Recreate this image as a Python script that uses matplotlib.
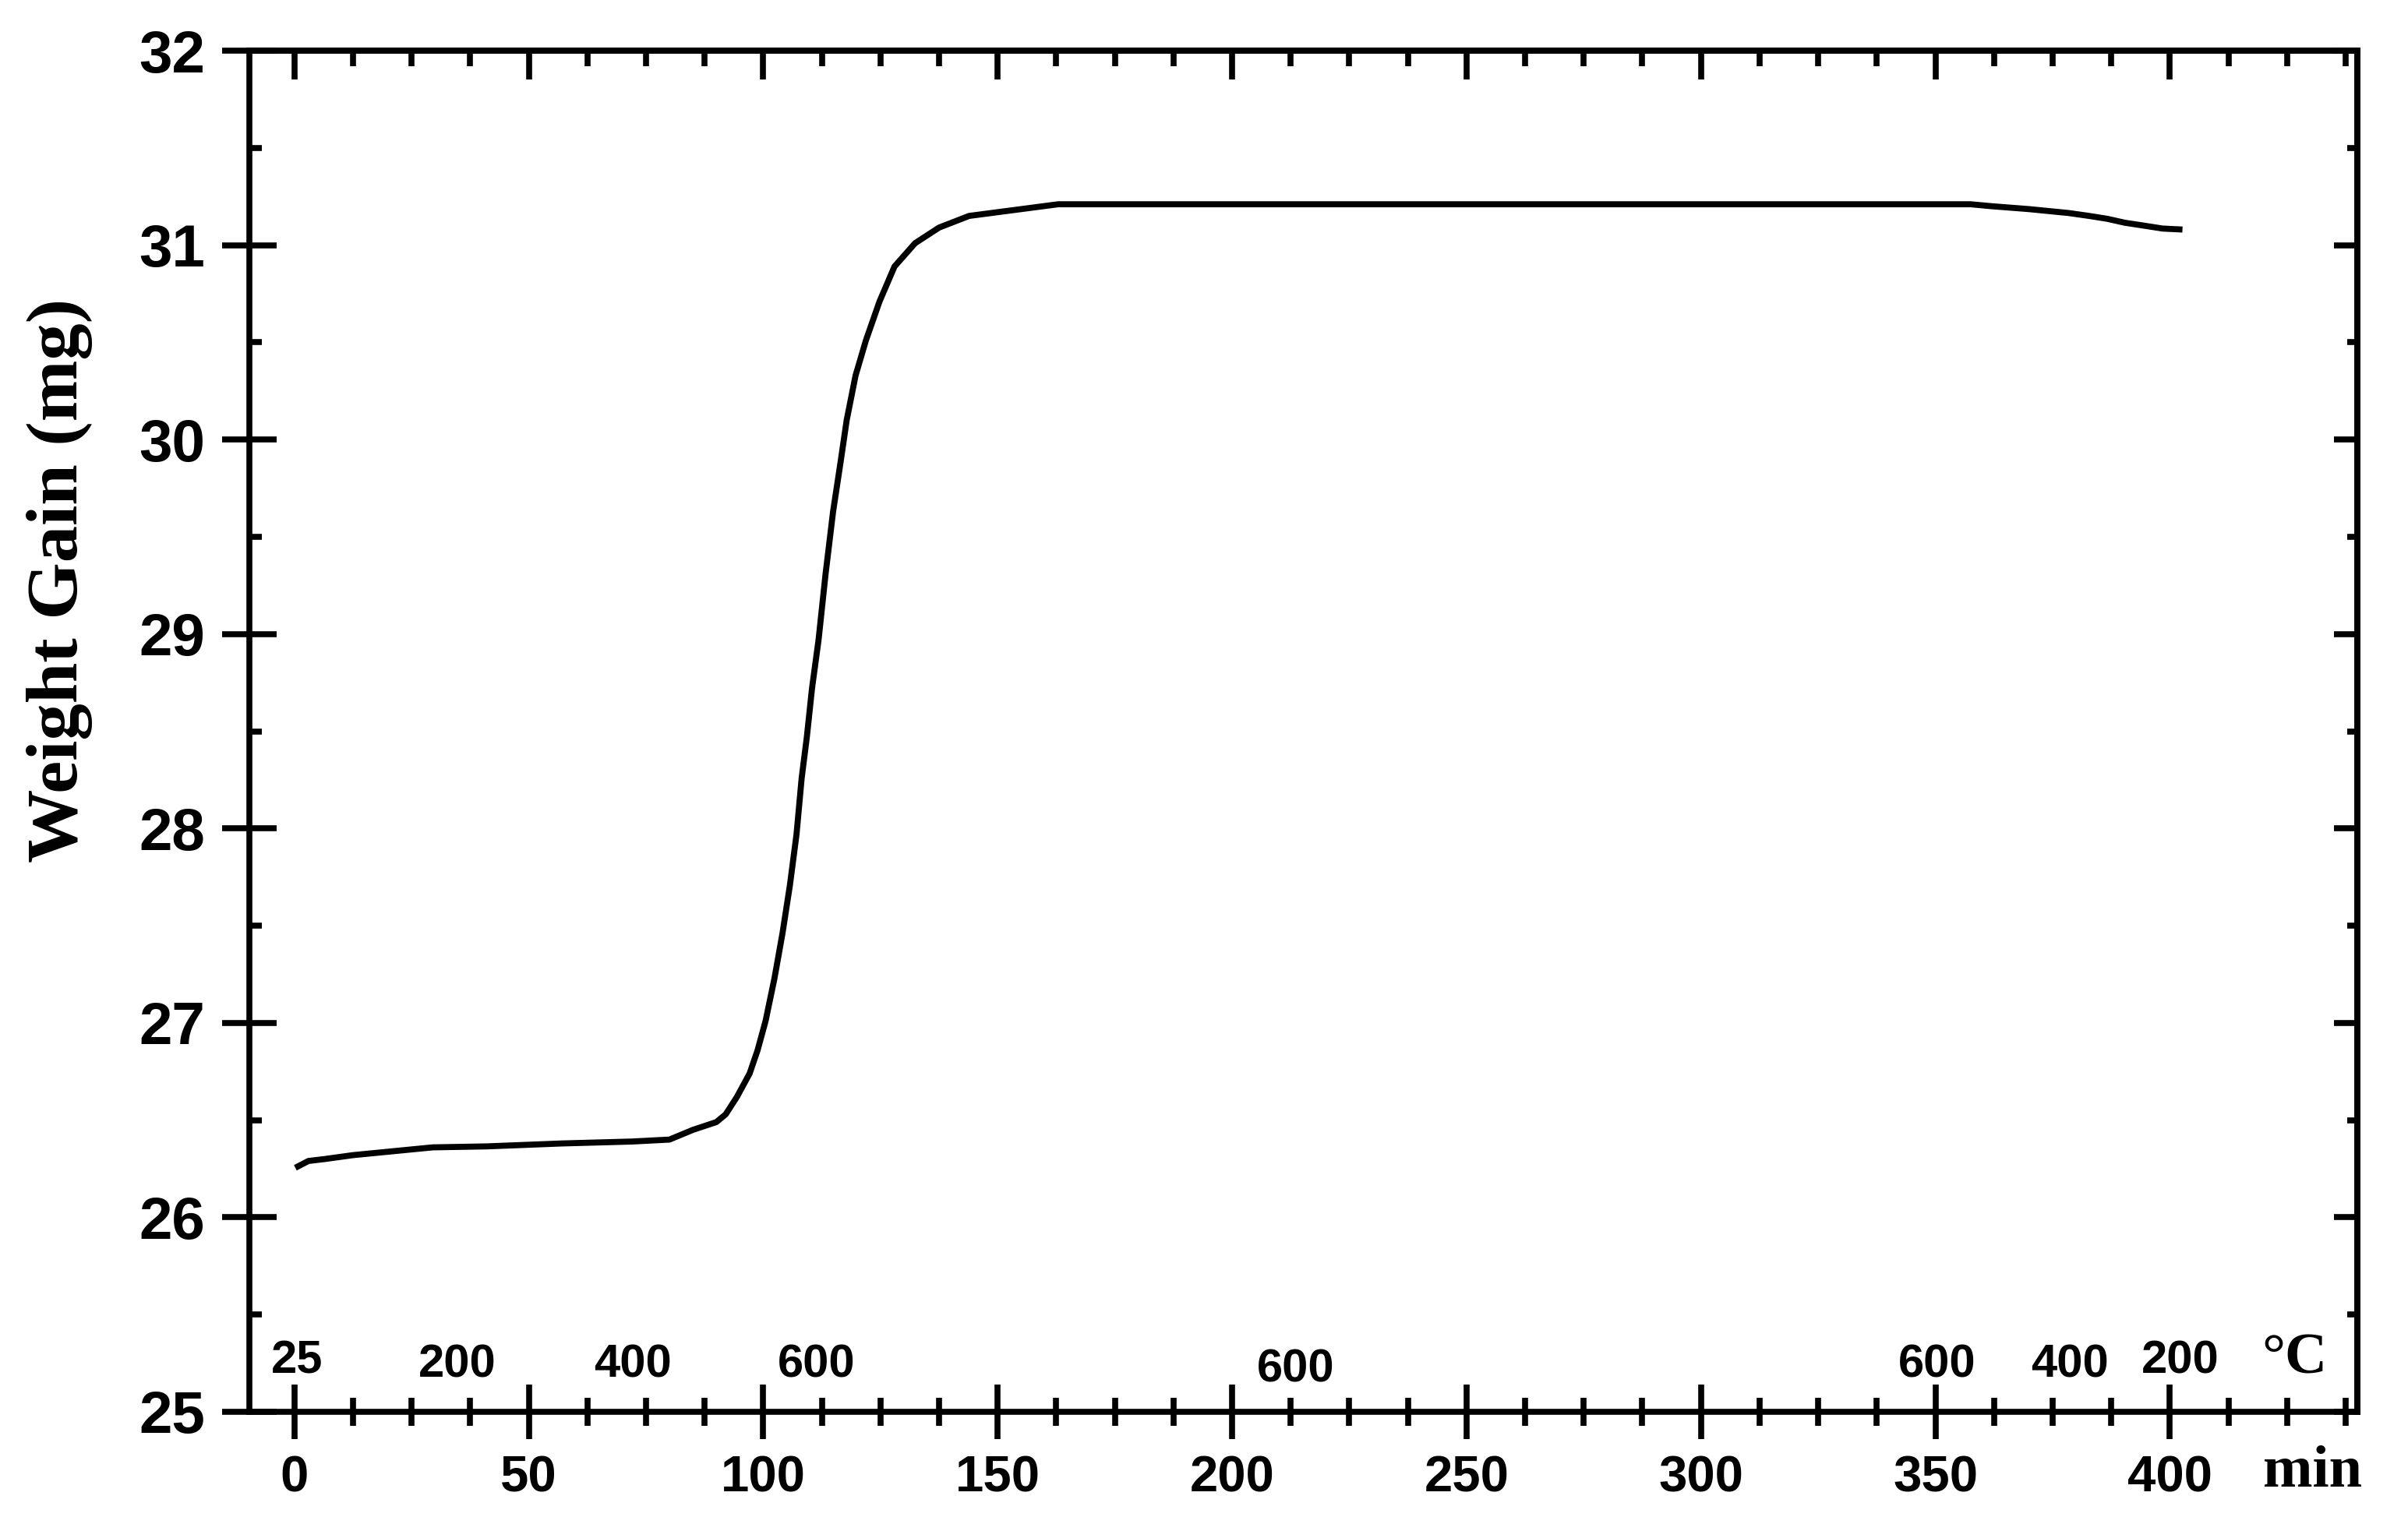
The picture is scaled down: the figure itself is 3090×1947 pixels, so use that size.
import matplotlib
matplotlib.use("Agg")
import matplotlib.pyplot as plt
from matplotlib.ticker import MultipleLocator, NullFormatter

# ---------------- data ----------------
time_min = [0.2, 3, 6.5, 12.5, 21, 29.5, 41, 57, 72, 80, 85, 90, 92, 94.4,
            97.1, 98.8, 100.5, 102.4, 104.1, 105.7, 107.1, 108.2, 109.3,
            110.4, 111.8, 113.3, 114.9, 116.5, 117.8, 119.7, 121.9, 124.8,
            128.0, 132.4, 137.5, 143.9, 153.4, 162.9, 250, 357.5, 362, 370,
            378.4, 382.8, 386.7, 390.4, 394.5, 398.5, 402.7]
weight_mg = [26.255, 26.29, 26.30, 26.32, 26.34, 26.36, 26.365, 26.38, 26.39,
             26.40, 26.45, 26.49, 26.53, 26.62, 26.74, 26.86, 27.01, 27.23,
             27.46, 27.71, 27.97, 28.26, 28.47, 28.72, 28.97, 29.31, 29.63,
             29.885, 30.10, 30.33, 30.51, 30.71, 30.89, 31.01, 31.09, 31.15,
             31.18, 31.21, 31.21, 31.21, 31.20, 31.185, 31.165, 31.15, 31.135,
             31.115, 31.10, 31.085, 31.08]

temp_labels = ["25", "200", "400", "600", "600", "600", "400", "200"]
temp_label_x = [0.5, 34.8, 72.2, 111.3, 213.5, 350.3, 378.7, 402.3]
temp_label_y = [25.20, 25.18, 25.18, 25.18, 25.156, 25.18, 25.18, 25.20]

x_limits = (-9.6, 440)
y_limits = (25, 32)

# ---------------- figure ----------------
W, H = 3090, 1947
fig = plt.figure(figsize=(W / 100, H / 100), dpi=100)
plt.rcParams["font.family"] = ["Liberation Sans", "DejaVu Sans"]
plt.rcParams["font.weight"] = "bold"

ax = fig.add_axes([320 / W, (H - 1812) / H, 2705 / W, 1747 / H])
ax.plot(time_min, weight_mg, color="black", lw=5.6,
        solid_capstyle="butt", solid_joinstyle="round")
ax.set_xlim(*x_limits)
ax.set_ylim(*y_limits)

for s in ax.spines.values():
    s.set_linewidth(5.5)

ax.xaxis.set_major_locator(MultipleLocator(50))
ax.xaxis.set_minor_locator(MultipleLocator(12.5))
ax.yaxis.set_major_locator(MultipleLocator(1))
ax.yaxis.set_minor_locator(MultipleLocator(0.5))

ax.tick_params(axis="x", which="major", direction="inout", length=50,
               width=5.5, pad=15, labelsize=47, top=False)
ax.tick_params(axis="x", which="minor", direction="inout", length=26.5,
               width=5.5, top=False)
ax.tick_params(axis="y", which="major", direction="inout", length=50,
               width=5.5, pad=16, labelsize=55, right=False)
ax.tick_params(axis="y", which="minor", direction="in", length=11.5,
               width=5.5, right=False)
for lab in ax.get_xticklabels() + ax.get_yticklabels():
    lab.set_fontweight("bold")

# top and right inward ticks
secx = ax.secondary_xaxis("top")
secx.xaxis.set_major_locator(MultipleLocator(50))
secx.xaxis.set_minor_locator(MultipleLocator(12.5))
secx.xaxis.set_major_formatter(NullFormatter())
secx.tick_params(axis="x", which="major", direction="in", length=26.6, width=5.5)
secx.tick_params(axis="x", which="minor", direction="in", length=14.4, width=5.5)
secx.spines["top"].set_linewidth(5.5)

secy = ax.secondary_yaxis("right")
secy.yaxis.set_major_locator(MultipleLocator(1))
secy.yaxis.set_minor_locator(MultipleLocator(0.5))
secy.yaxis.set_major_formatter(NullFormatter())
secy.tick_params(axis="y", which="major", direction="in", length=21.5, width=5.5)
secy.tick_params(axis="y", which="minor", direction="in", length=9.5, width=5.5)
secy.spines["right"].set_linewidth(5.5)

# temperature annotations
for lab, tx, ty in zip(temp_labels, temp_label_x, temp_label_y):
    ax.text(tx, ty, lab, ha="center", va="baseline", fontsize=43,
            fontweight="bold", family=["Liberation Sans", "DejaVu Sans"])
ax.text(426.6, 25.20, "\u00b0C", ha="center", va="baseline", fontsize=54,
        fontweight="bold", family=["Liberation Serif", "DejaVu Serif"])

fig.text(2968 / W, 1 - 1908 / H, "min", ha="center", va="baseline",
         fontsize=55, fontweight="bold", family=["Liberation Serif", "DejaVu Serif"])
fig.text(77 / W, 1 - 745 / H, "Weight Gain (mg)", rotation=90, ha="center",
         va="center", fontsize=68, fontweight="bold",
         family=["Liberation Serif", "DejaVu Serif"])

fig.savefig("out.png", dpi=100, facecolor="white")
